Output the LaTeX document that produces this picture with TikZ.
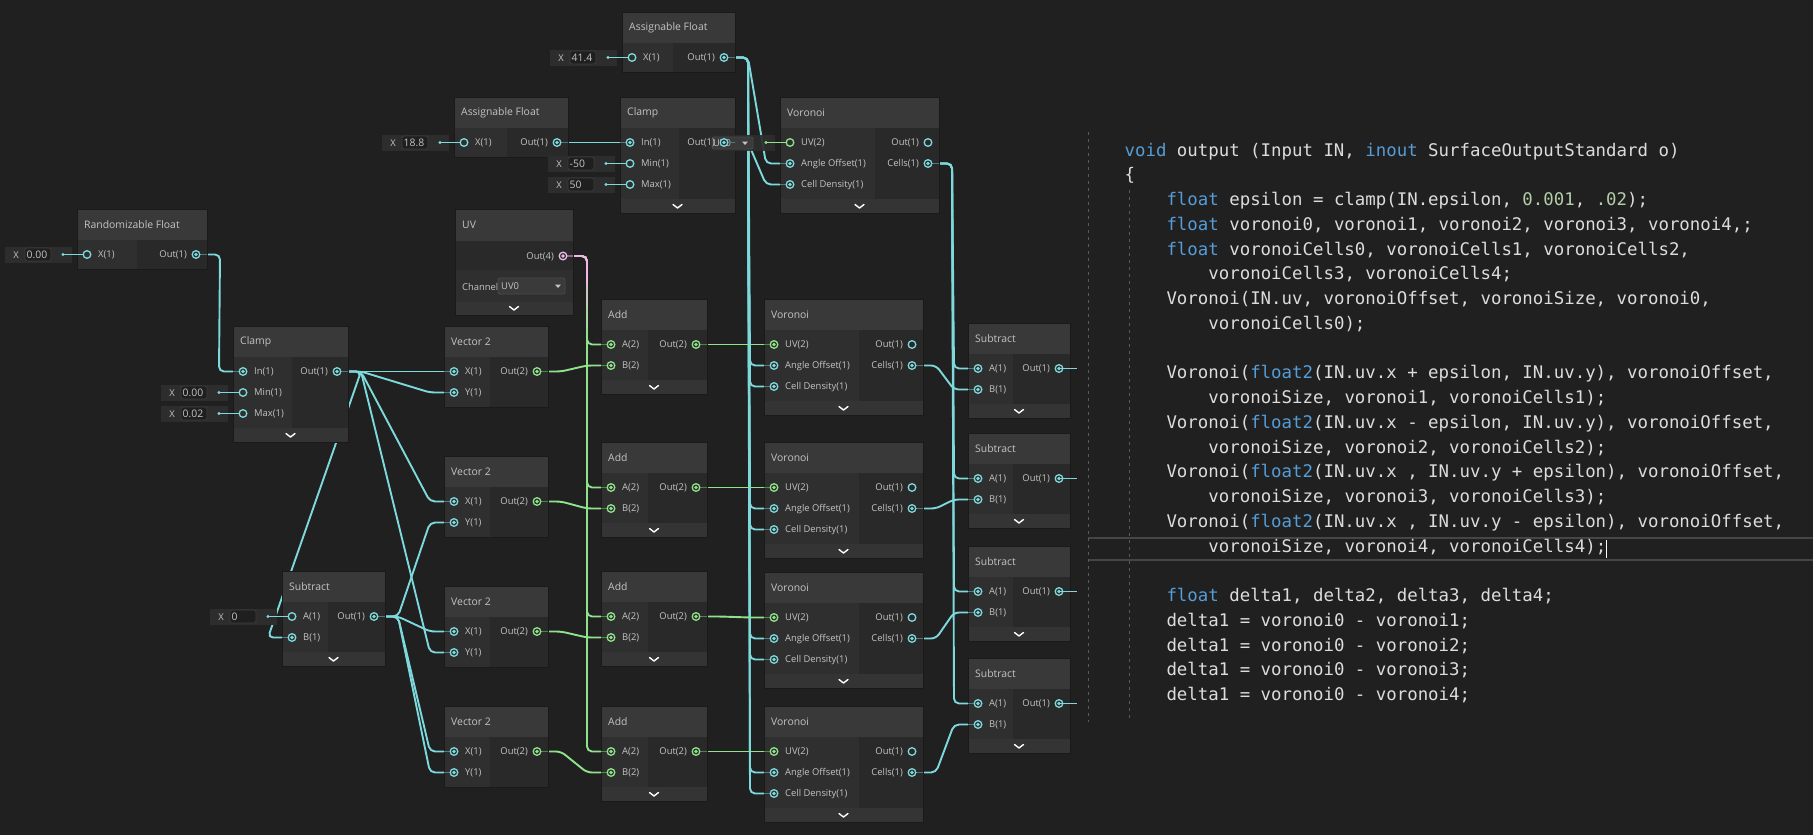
\documentclass[tikz,border=0pt]{standalone}
\usepackage{fontspec}
\setmainfont{Open Sans}
\setmonofont{DejaVu Sans Mono}
\usetikzlibrary{calc}
\pgfdeclarelayer{bglayer}
\pgfdeclarelayer{wirelayer}
\pgfsetlayers{bglayer,wirelayer,main}
\definecolor{bg}{HTML}{202020}
\definecolor{titlecol}{HTML}{393939}
\definecolor{incol}{HTML}{2F2F2F}
\definecolor{outcol}{HTML}{292929}
\definecolor{barcol}{HTML}{343434}
\definecolor{bordercol}{HTML}{1A1A1A}
\definecolor{lbl}{HTML}{C4C4C4}
\definecolor{cyanw}{HTML}{7DD9DC}
\definecolor{greenw}{HTML}{8FE38A}
\definecolor{pinkw}{HTML}{F2B8EE}
\definecolor{fieldcol}{HTML}{2D2D2D}
\definecolor{fieldinner}{HTML}{1F1F1F}
\definecolor{fieldborder}{HTML}{3C3C3C}
\definecolor{ddcol}{HTML}{3A3A3A}
\definecolor{ddborder}{HTML}{4A4A4A}
\definecolor{codetext}{HTML}{DCDCDC}
\definecolor{kw}{HTML}{569CD6}
\definecolor{numc}{HTML}{B5CEA8}
\definecolor{guide}{HTML}{5A5A5A}
\definecolor{hlc}{HTML}{464646}
\newcommand\ttl{\fontsize{10.4}{12}\selectfont}
\newcommand\plbl{\fontsize{9.4}{11}\selectfont}
\newcommand\codef{\ttfamily\fontsize{17.39}{20}\selectfont}
\newcommand\kwd[1]{\textcolor{kw}{#1}}
\newcommand\numv[1]{\textcolor{numc}{#1}}
% node: name, x, y, width, left column width, rows, bar, title
\newcommand\UNode[8]{%
  \pgfmathsetmacro\uB{39+21*#6}%
  \pgfmathsetmacro\uH{\uB+14*#7}%
  \node[inner sep=0pt, outer sep=0pt, minimum width=#4pt, minimum height=\uH pt, anchor=north west] (#1) at (#2,#3) {};
  \fill[titlecol] (#2,#3) rectangle ++(#4,31);
  \fill[incol] (#2,#3+31) rectangle ++(#5,\uB-31);
  \fill[outcol] (#2+#5,#3+31) rectangle (#2+#4,#3+\uB);
  \ifnum#7=1
    \fill[barcol] (#2,#3+\uB) rectangle ++(#4,14);
    \draw[white, line width=1.4pt, line cap=round, line join=round] (#2+#4/2-4.5,#3+\uB+5.5) -- ++(4.5,3.5) -- ++(4.5,-3.5);
  \fi
  \draw[bordercol, line width=1pt] (#2,#3) rectangle ++(#4,\uH);
  \node[anchor=west, inner sep=0pt, text=lbl, font=\ttl] at (#2+7,#3+15.5) {#8};
}
% input port: node, row, label, colour, connected
\newcommand\InP[5]{%
  \coordinate (#1-in#2) at ($(#1.north west)+(10,45.5+21*#2)$);
  \ifnum#5=1 \draw[#4!45!incol, line width=1.6pt] ($(#1.north west)+(0,45.5+21*#2)$) -- (#1-in#2);\fi
  \draw[#4, line width=1.3pt, fill=incol] (#1-in#2) circle (3.8pt);
  \ifnum#5=1 \fill[#4] (#1-in#2) circle (1.8pt);\fi
  \node[anchor=west, inner sep=0pt, text=lbl, font=\plbl] at ($(#1-in#2)+(11,0.5)$) {#3};
}
\newcommand\OutP[5]{%
  \coordinate (#1-out#2) at ($(#1.north east)+(-11,45.5+21*#2)$);
  \ifnum#5=1 \draw[#4!45!outcol, line width=1.6pt] (#1-out#2) -- ($(#1.north east)+(0,45.5+21*#2)$);\fi
  \draw[#4, line width=1.3pt, fill=outcol] (#1-out#2) circle (3.8pt);
  \ifnum#5=1 \fill[#4] (#1-out#2) circle (1.8pt);\fi
  \node[anchor=east, inner sep=0pt, text=lbl, font=\plbl] at ($(#1-out#2)+(-9,0.5)$) {#3};
}
% default value field: node, row, text
\newcommand\Field[3]{%
  \coordinate (#1-fp#2) at ($(#1.north west)+(10,45.5+21*#2)$);
  \coordinate (#1-f#2) at ($(#1-fp#2)+(-82,-8)$);
  \fill[fieldcol] (#1-f#2) rectangle ($(#1-f#2)+(67,16)$);
  \node[inner sep=0pt, text=lbl, font=\plbl] at ($(#1-f#2)+(11,8.5)$) {X};
  \draw[fieldborder, fill=fieldinner, rounded corners=2pt, line width=0.8pt] ($(#1-f#2)+(20,1.5)$) rectangle ($(#1-f#2)+(46,14.5)$);
  \node[anchor=west, inner sep=0pt, text=lbl, font=\ttl] at ($(#1-f#2)+(21.5,8.5)$) {#3};
  \draw[cyanw, line width=1.4pt] ($(#1-f#2)+(58,8)$) -- (#1-fp#2);
  \fill[cyanw] ($(#1-f#2)+(58,8)$) circle (1.7pt);
}
\newcommand\Wire[3][cyanw]{\draw[line width=1.9pt, rounded corners=5pt, #1] (#2) -- ($(#2)+(24,0)$) -- ($(#3)+(-24,0)$) -- (#3);}
\newcommand\CL[4]{\node[anchor=base west, inner sep=0pt, text=codetext, font=\codef] (#1) at (1124.4+41.9*#2,156+24.75*#3) {#4};}
\begin{document}
\begin{tikzpicture}[x=1pt,y=-1pt]
\useasboundingbox (0,0) rectangle (1813,835);
\begin{pgfonlayer}{bglayer}
\fill[bg] (0,0) rectangle (1813,835);
\end{pgfonlayer}
% ---------- nodes ----------
\UNode{randf}{77}{209}{130}{60}{1}{0}{Randomizable Float}
\UNode{clampL}{233}{326}{115}{59}{3}{1}{Clamp}
\UNode{af2}{454}{97}{114}{53}{1}{0}{Assignable Float}
\UNode{aft}{622}{12}{113}{51}{1}{0}{Assignable Float}
\UNode{clampT}{620}{97}{115}{59}{3}{1}{Clamp}
\UNode{vorT}{780}{97}{159}{95}{3}{1}{Voronoi}
\UNode{vec1}{444}{326}{104}{46}{2}{0}{Vector 2}
\UNode{vec2}{444}{456}{104}{46}{2}{0}{Vector 2}
\UNode{vec3}{444}{586}{104}{46}{2}{0}{Vector 2}
\UNode{vec4}{444}{706}{104}{46}{2}{0}{Vector 2}
\UNode{add1}{601}{299}{106}{47}{2}{1}{Add}
\UNode{add2}{601}{442}{106}{47}{2}{1}{Add}
\UNode{add3}{601}{571}{106}{47}{2}{1}{Add}
\UNode{add4}{601}{706}{106}{47}{2}{1}{Add}
\UNode{vor1}{764}{299}{159}{95}{3}{1}{Voronoi}
\UNode{vor2}{764}{442}{159}{95}{3}{1}{Voronoi}
\UNode{vor3}{764}{572}{159}{95}{3}{1}{Voronoi}
\UNode{vor4}{764}{706}{159}{95}{3}{1}{Voronoi}
\UNode{subL}{282}{571}{103}{46}{2}{1}{Subtract}
\UNode{subR1}{968}{323}{102}{45}{2}{1}{Subtract}
\UNode{subR2}{968}{433}{102}{45}{2}{1}{Subtract}
\UNode{subR3}{968}{546}{102}{45}{2}{1}{Subtract}
\UNode{subR4}{968}{658}{102}{45}{2}{1}{Subtract}
% UV node
\node[inner sep=0pt, outer sep=0pt, minimum width=118pt, minimum height=106pt, anchor=north west] (uv) at (455,209) {};
\fill[titlecol] (455,209) rectangle (573,241);
\fill[outcol] (455,241) rectangle (573,270);
\fill[incol] (455,270) rectangle (573,302);
\fill[barcol] (455,302) rectangle (573,315);
\draw[white, line width=1.4pt, line cap=round, line join=round] (509.5,306.5) -- ++(4.5,3.5) -- ++(4.5,-3.5);
\draw[bordercol, line width=1pt] (455,209) rectangle (573,315);
\node[anchor=west, inner sep=0pt, text=lbl, font=\ttl] at (462,224.5) {UV};
\node[anchor=west, inner sep=0pt, text=lbl, font=\plbl] at (462,286.5) {Channel};
\draw[ddborder, fill=ddcol, rounded corners=2pt, line width=0.8pt] (498,278) rectangle (565,294);
\node[anchor=west, inner sep=0pt, text=lbl, font=\plbl] at (501,286.5) {UV0};
\fill[lbl] (555,284.5) -- (561,284.5) -- (558,288) -- cycle;
% ---------- default value fields ----------
\Field{aft}{0}{41.4}
\Field{af2}{0}{18.8}
\Field{clampT}{1}{-50}
\Field{clampT}{2}{50}
\Field{randf}{0}{0.00}
\Field{clampL}{1}{0.00}
\Field{clampL}{2}{0.02}
\Field{subL}{0}{0}
% UV field of the top Voronoi
\coordinate (vorT-fp0) at ($(vorT.north west)+(10,45.5)$);
\fill[fieldcol, opacity=0.93] (708,135) rectangle (775,151);
\draw[ddborder, fill=ddcol, rounded corners=2pt, line width=0.8pt] (712,137) rectangle (753,149);
\node[anchor=west, inner sep=0pt, text=lbl, font=\plbl] at (713,143.5) {UV0};
\fill[lbl] (742,141.5) -- (748,141.5) -- (745,145) -- cycle;
\draw[greenw, line width=1.4pt] (766,142.5) -- (vorT-fp0);
\fill[greenw] (766,142.5) circle (1.7pt);
% ---------- ports ----------
\InP{randf}{0}{X(1)}{cyanw}{0}
\OutP{randf}{0}{Out(1)}{cyanw}{1}
\foreach \n in {clampL,clampT} {
  \InP{\n}{0}{In(1)}{cyanw}{1}
  \InP{\n}{1}{Min(1)}{cyanw}{0}
  \InP{\n}{2}{Max(1)}{cyanw}{0}
  \OutP{\n}{0}{Out(1)}{cyanw}{1}
}
\foreach \n in {af2,aft} {
  \InP{\n}{0}{X(1)}{cyanw}{0}
  \OutP{\n}{0}{Out(1)}{cyanw}{1}
}
\InP{vorT}{0}{UV(2)}{greenw}{0}
\InP{vorT}{1}{Angle Offset(1)}{cyanw}{1}
\InP{vorT}{2}{Cell Density(1)}{cyanw}{1}
\OutP{vorT}{0}{Out(1)}{cyanw}{0}
\OutP{vorT}{1}{Cells(1)}{cyanw}{1}
\foreach \i in {1,...,4} {
  \InP{vor\i}{0}{UV(2)}{greenw}{1}
  \InP{vor\i}{1}{Angle Offset(1)}{cyanw}{1}
  \InP{vor\i}{2}{Cell Density(1)}{cyanw}{1}
  \OutP{vor\i}{0}{Out(1)}{cyanw}{0}
  \OutP{vor\i}{1}{Cells(1)}{cyanw}{1}
  \InP{vec\i}{0}{X(1)}{cyanw}{1}
  \InP{vec\i}{1}{Y(1)}{cyanw}{1}
  \OutP{vec\i}{0}{Out(2)}{greenw}{1}
  \InP{add\i}{0}{A(2)}{greenw}{1}
  \InP{add\i}{1}{B(2)}{greenw}{1}
  \OutP{add\i}{0}{Out(2)}{greenw}{1}
  \InP{subR\i}{0}{A(1)}{cyanw}{1}
  \InP{subR\i}{1}{B(1)}{cyanw}{1}
  \OutP{subR\i}{0}{Out(1)}{cyanw}{1}
  \coordinate (subR\i-end) at ($(subR\i-out0)+(18,0)$);
}
\InP{subL}{0}{A(1)}{cyanw}{0}
\InP{subL}{1}{B(1)}{cyanw}{1}
\OutP{subL}{0}{Out(1)}{cyanw}{1}
\coordinate (uv-out0) at (563,256);
\draw[pinkw!45!outcol, line width=1.6pt] (uv-out0) -- (573,256);
\draw[pinkw, line width=1.3pt, fill=outcol] (uv-out0) circle (3.8pt);
\fill[pinkw] (uv-out0) circle (1.8pt);
\node[anchor=east, inner sep=0pt, text=lbl, font=\plbl] at (554,256.5) {Out(4)};
% ---------- wires ----------
\begin{pgfonlayer}{wirelayer}
\Wire{randf-out0}{clampL-in0}
\Wire{af2-out0}{clampT-in0}
\foreach \t in {vorT,vor1,vor2,vor3,vor4} {
  \Wire{aft-out0}{\t-in1}
  \Wire{clampT-out0}{\t-in2}
}
\foreach \t in {vec1-in0,vec1-in1,vec2-in0,vec3-in1,subL-in1} {\Wire{clampL-out0}{\t}}
\foreach \t in {vec2-in1,vec3-in0,vec4-in0,vec4-in1} {\Wire{subL-out0}{\t}}
\foreach \i in {1,...,4} {
  \Wire[greenw]{vec\i-out0}{add\i-in1}
  \Wire[greenw]{uv-out0}{add\i-in0}
  \Wire[greenw]{add\i-out0}{vor\i-in0}
  \Wire{vorT-out1}{subR\i-in0}
  \Wire{vor\i-out1}{subR\i-in1}
}
\draw[line width=1.9pt, rounded corners=5pt, pinkw] (uv-out0) -- (587,256) -- (587,286);
\draw[line width=1.9pt, pinkw!55!greenw] (587,285) -- (587,308);
\draw[line width=1.9pt, pinkw!25!greenw] (587,307) -- (587,328);
\end{pgfonlayer}
\foreach \i in {1,...,4} {\draw[cyanw, line width=1.5pt] (subR\i-out0) -- (subR\i-end);}
% ---------- code editor ----------
\draw[hlc, line width=2pt] (1088,537.5) -- (1813,537.5);
\draw[hlc, line width=2pt] (1088,560) -- (1813,560);
\draw[guide, line width=1pt, dash pattern=on 3pt off 4pt] (1088,132) -- (1088,722);
\draw[guide, line width=1pt, dash pattern=on 3pt off 4pt] (1129,190) -- (1129,722);
\CL{c0}{0}{0}{\kwd{void} output (Input IN, \kwd{inout} SurfaceOutputStandard o)}
\CL{c1}{0}{1}{\{}
\CL{c2}{1}{2}{\kwd{float} epsilon = clamp(IN.epsilon, \numv{0.001}, \numv{.02});}
\CL{c3}{1}{3}{\kwd{float} voronoi0, voronoi1, voronoi2, voronoi3, voronoi4,;}
\CL{c4}{1}{4}{\kwd{float} voronoiCells0, voronoiCells1, voronoiCells2,}
\CL{c5}{2}{5}{voronoiCells3, voronoiCells4;}
\CL{c6}{1}{6}{Voronoi(IN.uv, voronoiOffset, voronoiSize, voronoi0,}
\CL{c7}{2}{7}{voronoiCells0);}
\CL{c9}{1}{9}{Voronoi(\kwd{float2}(IN.uv.x + epsilon, IN.uv.y), voronoiOffset,}
\CL{c10}{2}{10}{voronoiSize, voronoi1, voronoiCells1);}
\CL{c11}{1}{11}{Voronoi(\kwd{float2}(IN.uv.x - epsilon, IN.uv.y), voronoiOffset,}
\CL{c12}{2}{12}{voronoiSize, voronoi2, voronoiCells2);}
\CL{c13}{1}{13}{Voronoi(\kwd{float2}(IN.uv.x , IN.uv.y + epsilon), voronoiOffset,}
\CL{c14}{2}{14}{voronoiSize, voronoi3, voronoiCells3);}
\CL{c15}{1}{15}{Voronoi(\kwd{float2}(IN.uv.x , IN.uv.y - epsilon), voronoiOffset,}
\CL{c16}{2}{16}{voronoiSize, voronoi4, voronoiCells4);}
\CL{c18}{1}{18}{\kwd{float} delta1, delta2, delta3, delta4;}
\CL{c19}{1}{19}{delta1 = voronoi0 - voronoi1;}
\CL{c20}{1}{20}{delta1 = voronoi0 - voronoi2;}
\CL{c21}{1}{21}{delta1 = voronoi0 - voronoi3;}
\CL{c22}{1}{22}{delta1 = voronoi0 - voronoi4;}
\draw[white, line width=0.8pt] (1606.5,540) -- (1606.5,558);
\end{tikzpicture}
\end{document}
